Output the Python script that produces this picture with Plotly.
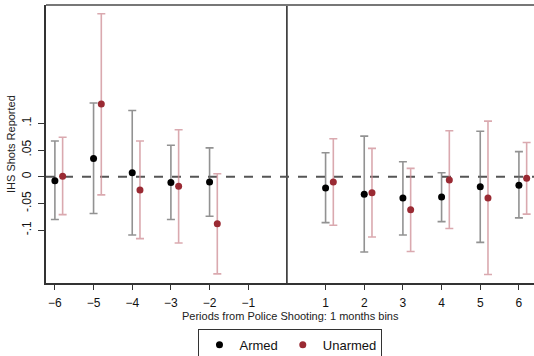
import plotly.graph_objects as go

periods = [-6, -5, -4, -3, -2, 1, 2, 3, 4, 5, 6]
armed_est = [-0.0075, 0.034, 0.0075, -0.011, -0.010, -0.021, -0.033, -0.040, -0.038, -0.019, -0.016]
armed_hi = [0.067, 0.138, 0.124, 0.059, 0.054, 0.045, 0.076, 0.028, 0.0075, 0.085, 0.047]
armed_lo = [-0.080, -0.069, -0.109, -0.080, -0.074, -0.086, -0.141, -0.109, -0.084, -0.123, -0.077]
unarmed_est = [0.001, 0.136, -0.025, -0.018, -0.088, -0.010, -0.030, -0.062, -0.006, -0.040, -0.003]
unarmed_hi = [0.074, 0.305, 0.067, 0.088, 0.0056, 0.071, 0.053, 0.0156, 0.086, 0.104, 0.064]
unarmed_lo = [-0.071, -0.034, -0.116, -0.124, -0.182, -0.091, -0.113, -0.140, -0.097, -0.183, -0.070]
xtick_vals = [-6, -5, -4, -3, -2, -1, 1, 2, 3, 4, 5, 6]
ytick_vals = [-0.1, -0.05, 0, 0.05, 0.1]
ytick_text = ["-.1", "-.05", "0", ".05", ".1"]

offset = 0.2
fig = go.Figure()
fig.add_trace(go.Scatter(
    x=periods, y=armed_est, mode="markers", name="Armed",
    marker=dict(color="black", size=7),
    error_y=dict(type="data", symmetric=False,
                 array=[h - e for h, e in zip(armed_hi, armed_est)],
                 arrayminus=[e - l for l, e in zip(armed_lo, armed_est)],
                 color="rgba(110,110,110,0.75)", thickness=1.6, width=4),
))
fig.add_trace(go.Scatter(
    x=[p + offset for p in periods], y=unarmed_est, mode="markers", name="Unarmed",
    marker=dict(color="#9a2a33", size=7),
    error_y=dict(type="data", symmetric=False,
                 array=[h - e for h, e in zip(unarmed_hi, unarmed_est)],
                 arrayminus=[e - l for l, e in zip(unarmed_lo, unarmed_est)],
                 color="rgba(205,140,148,0.75)", thickness=1.6, width=4),
))

fig.add_shape(type="line", xref="x", yref="paper", x0=0, x1=0, y0=0, y1=1,
              line=dict(color="black", width=1.3), layer="below")
fig.add_shape(type="line", xref="paper", yref="y", x0=0, x1=1, y0=0, y1=0,
              line=dict(color="#555555", width=2, dash="dash"), layer="below")
fig.add_shape(type="line", xref="paper", yref="paper", x0=0, x1=1, y0=1, y1=1,
              line=dict(color="#777777", width=2))

fig.add_annotation(text="IHS Shots Reported", xref="paper", yref="paper",
                   x=-0.0717, xanchor="center", y=0.5, yanchor="middle",
                   showarrow=False, textangle=-90,
                   font=dict(family="Liberation Sans, Arial", size=11, color="#222"))
fig.add_annotation(text="Periods from Police Shooting: 1 months bins",
                   xref="paper", yref="paper", x=0.501, xanchor="center",
                   y=-0.1187, yanchor="middle", showarrow=False,
                   font=dict(family="Liberation Sans, Arial", size=11, color="#222"))

fig.update_layout(
    width=534, height=356,
    margin=dict(l=46, r=0, t=5, b=73, autoexpand=False),
    paper_bgcolor="white", plot_bgcolor="white",
    font=dict(family="Liberation Sans, Arial", color="#111"),
    showlegend=True,
    legend=dict(orientation="h", x=0.501, xref="paper", xanchor="center",
                y=-0.165, yref="paper", yanchor="top",
                bordercolor="#333", borderwidth=1, font=dict(size=13),
                itemwidth=30, tracegroupgap=0),
    xaxis=dict(range=[-6.23, 6.39], tickmode="array", tickvals=xtick_vals,
               ticks="outside", ticklen=5, tickcolor="#333", showgrid=False, zeroline=False,
               showline=True, linecolor="#333", linewidth=1.5, automargin=False,
               tickfont=dict(size=12), ticklabelstandoff=3),
    yaxis=dict(range=[-0.199, 0.3215], tickmode="array", tickvals=ytick_vals,
               ticktext=ytick_text, tickangle=-90, automargin=False,
               ticks="outside", ticklen=6, tickcolor="#333", showgrid=False, zeroline=False,
               showline=True, linecolor="#333", linewidth=1.5,
               tickfont=dict(size=12), ticklabelstandoff=2),
)
fig.write_html("out.html")
